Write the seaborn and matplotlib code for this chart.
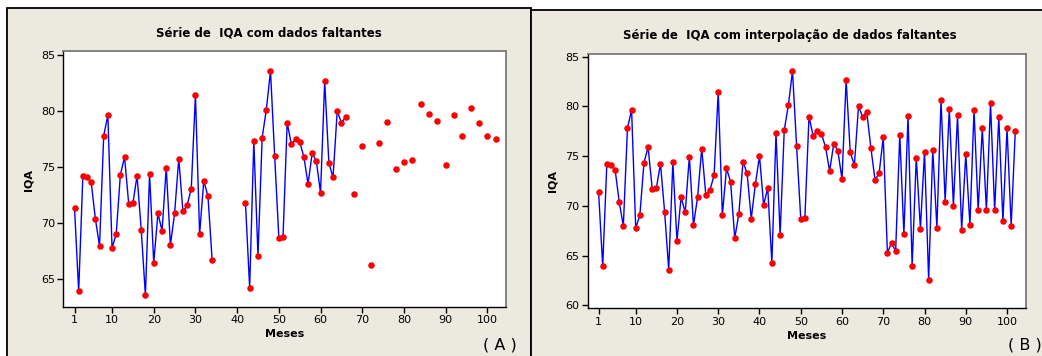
import numpy as np
import pandas as pd
import matplotlib
matplotlib.use("Agg")
import matplotlib.pyplot as plt
import seaborn as sns
from matplotlib.patches import Rectangle

# meses 1..102
meses = np.arange(1, 103)

# IQA observado (NaN = dado faltante)
nan = np.nan
iqa_observado = [
    71.39, 63.93, 74.21, 74.09, 73.65, 70.41, 67.97, 77.81, 79.65, 67.79,
    69.04, 74.33, 75.91, 71.72, 71.78, 74.24, 69.43, 63.57, 74.39, 66.46,
    70.88, 69.34, 74.96, 68.06, 70.88, 75.76, 71.06, 71.60, 73.08, 81.46,
    69.04, 73.78, 72.42, 66.75, nan, nan, nan, nan, nan, nan,
    nan, 71.80, 64.25, 77.33, 67.08, 77.63, 80.12, 83.57, 76.00, 68.71,
    68.77, 78.97, 77.06, 77.51, 77.24, 75.93, 73.50, 76.26, 75.52, 72.70,
    82.68, 75.37, 74.09, 80.01, 78.97, 79.44, nan, 72.63, nan, 76.91,
    nan, 66.28, nan, 77.15, nan, 79.03, nan, 74.86, nan, 75.43,
    nan, 75.66, nan, 80.63, nan, 79.74, nan, 79.09, nan, 75.19,
    nan, 79.65, nan, 77.80, nan, 80.30, nan, 78.94, nan, 77.78,
    nan, 77.54,
]

# valores interpolados nos meses faltantes
meses_faltantes = [35, 36, 37, 38, 39, 40, 41,
                   67, 69, 71, 73, 75, 77, 79, 81, 83, 85,
                   87, 89, 91, 93, 95, 97, 99, 101]
iqa_interpolado = [69.19, 74.44, 73.28, 68.71, 72.17, 75.02, 70.09,
                   75.82, 73.28, 65.27, 65.44, 67.18, 63.99, 67.71, 62.55, 67.81, 70.42,
                   70.02, 67.61, 68.08, 69.56, 69.56, 69.56, 68.45, 68.01]

xticks = [1, 10, 20, 30, 40, 50, 60, 70, 80, 90, 100]

df_a = pd.DataFrame({"mes": meses, "iqa": iqa_observado})
df_b = df_a.copy()
df_b.loc[df_b["mes"].isin(meses_faltantes), "iqa"] = iqa_interpolado


def segmentos(df):
    # trechos contínuos sem dados faltantes, para a linha quebrar nos buracos
    falta = df["iqa"].isna()
    df = df.assign(seg=falta.cumsum())
    return df[~falta]


sns.set_style("white")
plt.rcParams["font.family"] = ["DejaVu Sans"]
plt.rcParams["text.color"] = "black"
plt.rcParams["axes.labelcolor"] = "black"
plt.rcParams["xtick.color"] = "black"
plt.rcParams["ytick.color"] = "black"

BEGE = "#ECE9DF"
fig = plt.figure(figsize=(10.42, 3.56), dpi=100)
fig.patch.set_facecolor("white")

# molduras estilo Minitab
fig.patches.append(Rectangle((7 / 1042, -0.1), 524 / 1042, 1.1 - 8 / 356,
                             transform=fig.transFigure, facecolor=BEGE,
                             edgecolor="black", lw=1.3, zorder=-5))
fig.patches.append(Rectangle((531 / 1042, -0.1), 0.6, 1.1 - 10 / 356,
                             transform=fig.transFigure, facecolor=BEGE,
                             edgecolor="black", lw=1.3, zorder=-5))

ax_a = fig.add_axes([0.0607, 0.1385, 0.4246, 0.7182])
ax_b = fig.add_axes([0.5640, 0.1340, 0.4209, 0.7143])

paineis = [
    (ax_a, df_a, (-1.7, 104.4), (62.56, 85.36), [65, 70, 75, 80, 85]),
    (ax_b, df_b, (-1.64, 104.66), (59.7, 85.27), [60, 65, 70, 75, 80, 85]),
]

for ax, df, xlim, ylim, yticks in paineis:
    ax.set_zorder(2)
    ax.set_facecolor("white")
    sns.lineplot(data=segmentos(df), x="mes", y="iqa", units="seg", estimator=None,
                 color="#0000FF", lw=1.0, ax=ax)
    sns.scatterplot(data=df, x="mes", y="iqa", color="#FF0000", s=22, linewidth=0,
                    ax=ax, zorder=3)
    ax.set_xlim(*xlim)
    ax.set_ylim(*ylim)
    ax.set_xticks(xticks)
    ax.set_yticks(yticks)
    ax.tick_params(direction="out", length=4, width=1, color="black",
                   labelsize=8, pad=2, bottom=True, left=True)
    ax.set_xlabel("Meses", fontsize=8, fontweight="bold", labelpad=3)
    ax.set_ylabel("")
    for lado in ["left", "bottom"]:
        ax.spines[lado].set_color("black")
        ax.spines[lado].set_linewidth(1.0)
    for lado in ["top", "right"]:
        ax.spines[lado].set_color("#7A7A7A")
        ax.spines[lado].set_linewidth(1.3)

fig.text(269 / 1042, 1 - 33 / 356, "Série de  IQA com dados faltantes",
         ha="center", va="center", fontsize=8.5, fontweight="bold")
fig.text(790 / 1042, 1 - 35 / 356, "Série de  IQA com interpolação de dados faltantes",
         ha="center", va="center", fontsize=8.5, fontweight="bold")
fig.text(29 / 1042, 1 - 180 / 356, "IQA", rotation=90, ha="center", va="center",
         fontsize=8, fontweight="bold")
fig.text(553 / 1042, 1 - 181 / 356, "IQA", rotation=90, ha="center", va="center",
         fontsize=8, fontweight="bold")
fig.text(500 / 1042, 1 - 345 / 356, "( A )", ha="center", va="center", fontsize=11.5)
fig.text(1025 / 1042, 1 - 345 / 356, "( B )", ha="center", va="center", fontsize=11.5)

fig.savefig("out.png", dpi=100, facecolor=fig.get_facecolor())
